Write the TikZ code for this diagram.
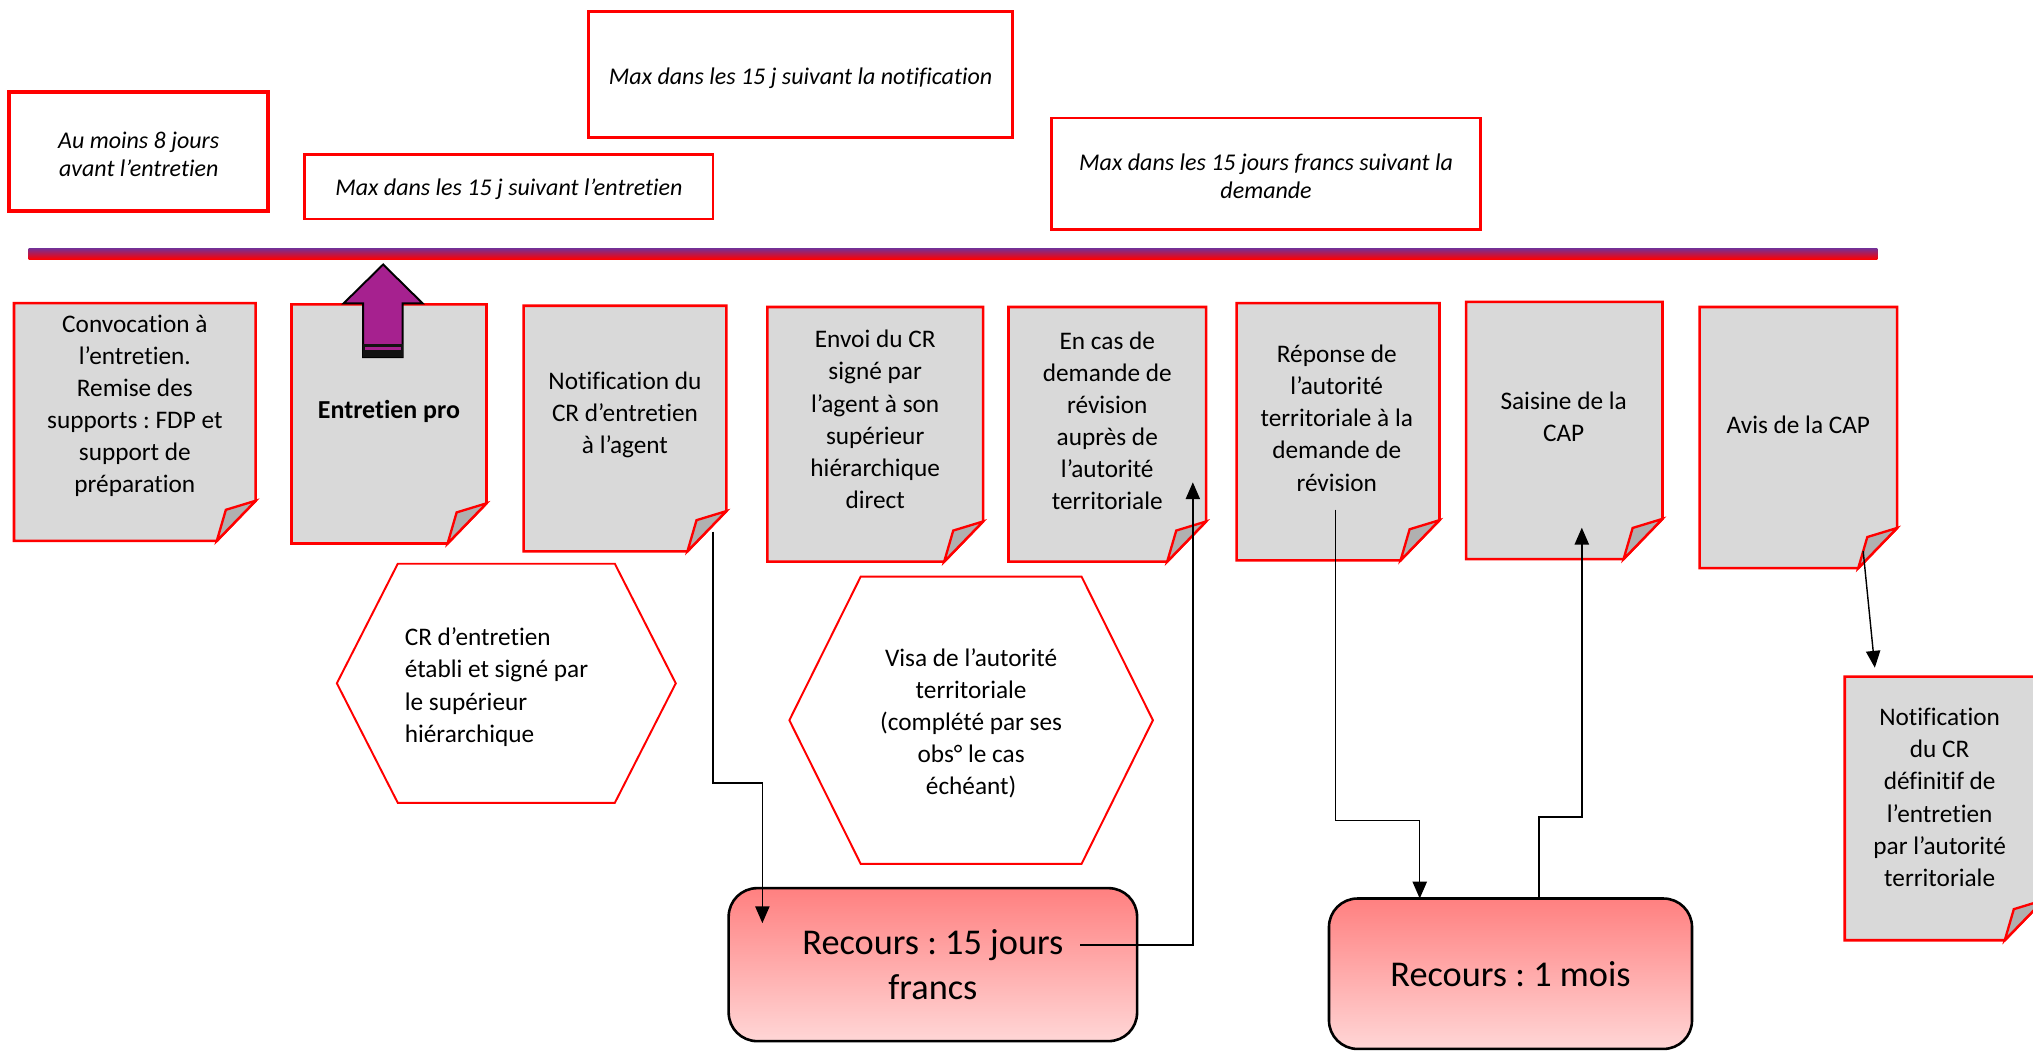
\documentclass[tikz,border=0pt]{standalone}
\usepackage{fontspec}
\setmainfont{Carlito}[Ligatures={NoCommon}]
\usetikzlibrary{calc,arrows.meta}
\definecolor{docgrey}{HTML}{D9D9D9}
\definecolor{foldgrey}{HTML}{B0B0B0}
\definecolor{arrowpurple}{RGB}{166,33,143}
\definecolor{barpurple}{RGB}{125,45,140}
\definecolor{rtop}{HTML}{FF8080}
\definecolor{rbot}{HTML}{FFD6D6}
\frenchspacing
\newcommand\drawdoc[1]{%
  \path[docline] (#1.north west) -- (#1.north east) -- ($(#1.south east)+(0,-31)$) -- ($(#1.south east)+(-30,0)$) -- (#1.south west) -- cycle;
  \path[foldline] ($(#1.south east)+(0,-31)$) -- ($(#1.south east)+(-23,-24)$) -- ($(#1.south east)+(-30,0)$) -- cycle;}
\newcommand\drawhex[2]{%
  \path[hexline] (#1.west) -- ($(#1.north west)+(#2,0)$) -- ($(#1.north east)+(-#2,0)$) -- (#1.east) -- ($(#1.south east)+(-#2,0)$) -- ($(#1.south west)+(#2,0)$) -- cycle;}
\begin{document}
\frenchspacing
\begin{tikzpicture}[x=1pt,y=-1pt,
  note/.style={rectangle, draw=red, line width=2pt, fill=white, inner sep=0pt},
  notetext/.style={inner sep=0pt, align=center, font=\fontsize{18.5}{22}\selectfont\itshape},
  docbox/.style={rectangle, draw=none, inner sep=0pt},
  docline/.style={draw=red, line width=2pt, fill=docgrey, line join=miter},
  foldline/.style={draw=red, line width=1.8pt, fill=foldgrey, line join=miter},
  doctext/.style={font=\fontsize{19.5}{24.8}\selectfont, align=center, inner sep=0pt},
  hexline/.style={draw=red, line width=1.5pt, fill=white},
  recours/.style={rectangle, rounded corners=22pt, draw=black, line width=2pt, top color=rtop, bottom color=rbot,
    inner sep=0pt, align=center, font=\fontsize{28}{34}\selectfont},
  conn/.style={draw=black, line width=1.1pt, -{Triangle[width=11pt,length=13pt]}},
  barstyle/.style={rectangle, inner sep=0pt, draw=none, top color=barpurple, bottom color=red}
]
\useasboundingbox (0,0) rectangle (1568,811);
\fill[white] (0,0) rectangle (1568,811);

% notes above the timeline
\node[note, line width=3pt, minimum width=200pt, minimum height=92pt] (n1) at (107,117) {};
\node[notetext] (tn1) at (107,119) {Au moins 8 jours\\avant l’entretien};
\node[note, minimum width=315pt, minimum height=50pt] (n2) at (392.5,144) {};
\node[notetext] (tn2) at (392.5,146) {Max dans les 15 j suivant l’entretien};
\node[note, minimum width=327pt, minimum height=97pt] (n3) at (617.5,57.5) {};
\node[notetext] (tn3) at (617.5,60) {Max dans les 15 j suivant la notification};
\node[note, minimum width=331pt, minimum height=86pt] (n4) at (976.5,134) {};
\node[notetext] (tn4) at (976.5,136) {Max dans les 15 jours francs suivant la\\demande};

% timeline bar
\node[barstyle, minimum width=1426pt, minimum height=8pt] (bar) at (735,196) {};

% documents
\node[docbox, minimum width=186pt, minimum height=183pt] (convoc) at (104,325.5) {};
\node[docbox, minimum width=150pt, minimum height=184pt] (entre) at (300,327) {};
\node[docbox, minimum width=156pt, minimum height=189pt] (notif) at (482,330.5) {};
\node[docbox, minimum width=166pt, minimum height=196pt] (envoi) at (675,335) {};
\node[docbox, minimum width=152pt, minimum height=196pt] (revis) at (854,335) {};
\node[docbox, minimum width=156pt, minimum height=198pt] (repon) at (1032,333) {};
\node[docbox, minimum width=151pt, minimum height=198pt] (saisi) at (1206.5,332) {};
\node[docbox, minimum width=152pt, minimum height=201pt] (avis) at (1387,337.5) {};
\node[docbox, minimum width=153pt, minimum height=203pt] (final) at (1499.5,623.5) {};
\drawdoc{convoc}\drawdoc{entre}\drawdoc{notif}\drawdoc{envoi}\drawdoc{revis}
\drawdoc{repon}\drawdoc{saisi}\drawdoc{avis}\drawdoc{final}

\node[doctext] (tconvoc) at (104,313) {Convocation à\\l’entretien.\\Remise des\\supports : FDP et\\support de\\préparation};
\node[doctext, font=\fontsize{20}{24.8}\selectfont\bfseries] (tentre) at (300,317) {Entretien pro};
\node[doctext] (tnotif) at (482,320) {Notification du\\CR d’entretien\\à l’agent};
\node[doctext] (tenvoi) at (675,323.5) {Envoi du CR\\signé par\\l’agent à son\\supérieur\\hiérarchique\\direct};
\node[doctext] (trevis) at (854,324.5) {En cas de\\demande de\\révision\\auprès de\\l’autorité\\territoriale};
\node[doctext] (trepon) at (1031,322.5) {Réponse de\\l’autorité\\territoriale à la\\demande de\\révision};
\node[doctext] (tsaisi) at (1206,321.5) {Saisine de la\\CAP};
\node[doctext] (tavis) at (1387,328) {Avis de la CAP};
\node[doctext] (tfinal) at (1496,615) {Notification\\du CR\\définitif de\\l’entretien\\par l’autorité\\territoriale};

% purple up arrow
\path[fill=arrowpurple, draw=black, line width=1.5pt, line join=miter]
  (295.5,204) -- (326,234) -- (310.5,234) -- (310.5,275.5) -- (280,275.5) -- (280,234) -- (265,234) -- cycle;
\fill[black!93] (280,265) rectangle (310.5,275.5);
\fill[arrowpurple] (281.5,267.5) rectangle (309,270);

% hexagons
\node[docbox, minimum width=261pt, minimum height=184pt] (hexa) at (390.5,527) {};
\drawhex{hexa}{47}
\node[doctext, anchor=west, align=left] (thexa) at (312,530) {CR d’entretien\\établi et signé par\\le supérieur\\hiérarchique};
\node[docbox, minimum width=280pt, minimum height=221pt] (hexb) at (749,555.5) {};
\drawhex{hexb}{55}
\node[doctext] (thexb) at (749,558) {Visa de l’autorité\\territoriale\\(complété par ses\\obs° le cas\\échéant)};

% recours boxes
\node[recours, minimum width=315pt, minimum height=118pt] (r15) at (719.5,744) {Recours : 15 jours\\francs};
\node[recours, minimum width=280pt, minimum height=116pt] (r1m) at (1165,751) {Recours : 1 mois};

% connectors
\coordinate (a1) at (550,410);
\coordinate (a2) at (588,712);
\draw[conn] (a1) -- ++(0,194) -| (a2);
\coordinate (b1) at (833,729);
\coordinate (b2) at (920,372);
\draw[conn] (b1) -| (b2);
\coordinate (c1) at (1030,393);
\coordinate (c2) at (1095,693);
\draw[conn] (c1) -- ++(0,240) -| (c2);
\coordinate (d1) at (1187,693);
\coordinate (d2) at (1220,407);
\draw[conn] (d1) -- ++(0,-63) -| (d2);
\coordinate (e1) at (1437,425);
\coordinate (e2) at (1446,515);
\draw[conn] (e1) -- (e2);
\end{tikzpicture}
\end{document}
